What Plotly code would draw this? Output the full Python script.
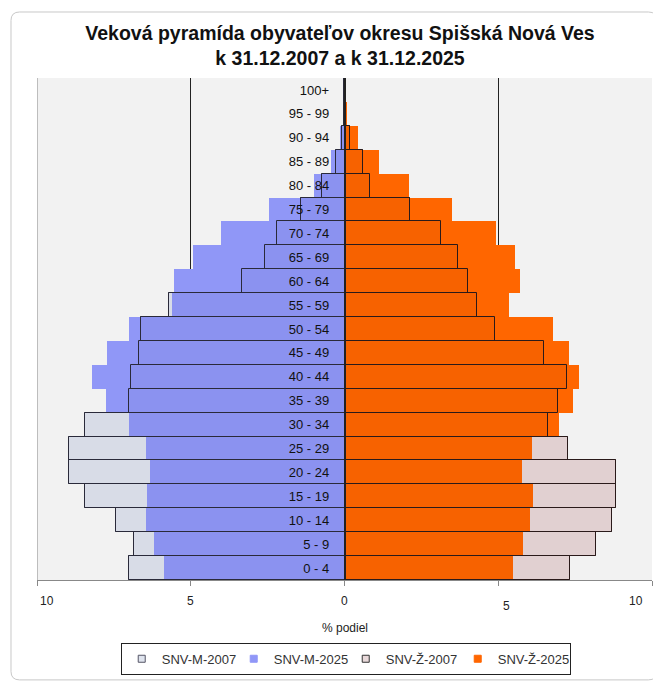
import plotly.graph_objects as go

age_groups = ["0 - 4", "5 - 9", "10 - 14", "15 - 19", "20 - 24", "25 - 29", "30 - 34",
              "35 - 39", "40 - 44", "45 - 49", "50 - 54", "55 - 59", "60 - 64", "65 - 69",
              "70 - 74", "75 - 79", "80 - 84", "85 - 89", "90 - 94", "95 - 99", "100+"]

male_2007 = [7.01, 6.84, 7.42, 8.43, 8.97, 8.97, 8.43, 7.02, 6.93, 6.68, 6.62, 5.72,
             3.34, 2.59, 2.19, 1.41, 0.73, 0.29, 0.09, 0.02, 0.01]
male_2025 = [5.87, 6.20, 6.46, 6.42, 6.32, 6.46, 7.02, 7.76, 8.20, 7.71, 7.02, 5.62,
             5.55, 4.93, 4.03, 2.44, 1.00, 0.45, 0.15, 0.04, 0.01]
female_2007 = [7.34, 8.18, 8.69, 8.83, 8.83, 7.28, 6.61, 6.93, 7.25, 6.50, 4.90, 4.30,
               4.02, 3.68, 3.14, 2.12, 0.83, 0.60, 0.18, 0.04, 0.01]
female_2025 = [5.48, 5.79, 6.03, 6.13, 5.76, 6.09, 6.98, 7.42, 7.63, 7.29, 6.77, 5.35,
               5.70, 5.56, 4.92, 3.49, 2.11, 1.12, 0.43, 0.09, 0.02]

series_names = ["SNV-M-2007", "SNV-M-2025", "SNV-Ž-2007", "SNV-Ž-2025"]

x_ticks = [-10, -5, 0, 5, 10]
x_tick_labels = ["10", "5", "0", "5", "10"]

neg = lambda arr: [-v for v in arr]

M07_FILL, M07_LINE = "#dfe4ee", "#4a4f60"
M25_FILL = "#9097f7"
Z07_FILL, Z07_LINE = "#e9d9da", "#3a3030"
Z25_FILL = "#ff6600"

fig = go.Figure()

fig.add_trace(go.Bar(y=age_groups, x=neg(male_2007), orientation="h", name=series_names[0],
                     showlegend=False,
                     marker=dict(color=M07_FILL, line=dict(color=M07_LINE, width=1))))
fig.add_trace(go.Bar(y=age_groups, x=neg(male_2025), orientation="h", name=series_names[1],
                     showlegend=False, marker=dict(color=M25_FILL, line=dict(width=0))))
fig.add_trace(go.Bar(y=age_groups, x=female_2007, orientation="h", name=series_names[2],
                     showlegend=False,
                     marker=dict(color=Z07_FILL, line=dict(color=Z07_LINE, width=1))))
fig.add_trace(go.Bar(y=age_groups, x=female_2025, orientation="h", name=series_names[3],
                     showlegend=False, marker=dict(color=Z25_FILL, line=dict(width=0))))
# 2007 outlines shown over the 2025 bars
fig.add_trace(go.Bar(y=age_groups, x=neg(male_2007), orientation="h", showlegend=False,
                     hoverinfo="skip",
                     marker=dict(color="rgba(0,0,40,0.03)", line=dict(color="#2a2a3a", width=1))))
fig.add_trace(go.Bar(y=age_groups, x=female_2007, orientation="h", showlegend=False,
                     hoverinfo="skip",
                     marker=dict(color="rgba(60,0,0,0.04)", line=dict(color="#2a1a1a", width=1))))

# legend entries with small square keys
legend_styles = [(M07_FILL, "#556"), (M25_FILL, M25_FILL), (Z07_FILL, "#333"), (Z25_FILL, Z25_FILL)]
for name, (fill, line) in zip(series_names, legend_styles):
    fig.add_trace(go.Scatter(x=[None], y=[None], mode="markers", name=name,
                             marker=dict(symbol="square", size=7, color=fill,
                                         line=dict(color=line, width=1))))

FONT = "Liberation Sans, Arial, sans-serif"

fig.update_layout(
    width=653, height=676,
    barmode="overlay", bargap=0,
    paper_bgcolor="white", plot_bgcolor="#f2f2f2",
    margin=dict(l=29, r=9, t=70, b=104, autoexpand=False),
    font=dict(family=FONT, size=12, color="#222"),
    title=dict(text="<b>Veková pyramída obyvateľov okresu Spišská Nová Ves<br>k 31.12.2007 a k 31.12.2025</b>",
               x=0.5084, xanchor="center", xref="container",
               y=0.953, yanchor="top", yref="container",
               font=dict(size=19.5, color="#111")),
    showlegend=True,
    legend=dict(orientation="h", x=0.502, xanchor="center", y=-0.157, yanchor="middle",
                bordercolor="#222", borderwidth=1, bgcolor="white",
                font=dict(size=13, color="#333"), traceorder="normal",
                itemwidth=30, tracegroupgap=0, entrywidth=67),
    xaxis=dict(range=[-10, 10], tickvals=x_ticks, ticktext=x_tick_labels,
               showticklabels=False, automargin=False,
               showgrid=True, gridcolor="#222", gridwidth=1, zeroline=False,
               showline=True, linecolor="#888", linewidth=1, ticks="outside",
               tickcolor="#888", ticklen=5, mirror=False, fixedrange=True),
    yaxis=dict(categoryorder="array", categoryarray=age_groups,
               anchor="free", position=0.5, side="left", automargin=False,
               showline=True, linecolor="#222", linewidth=1.5,
               ticks="", ticklabelstandoff=12,
               tickfont=dict(size=13, color="#111", family=FONT),
               showgrid=False, zeroline=False, fixedrange=True),
)

# x tick labels placed like the original chart
label_shift = {"-10": (10, 0), "-5": (0, 0), "0": (0, 0), "5": (8, -5), "10": (-16, 0)}
for v, t in zip(x_ticks, x_tick_labels):
    dx, dy = label_shift[str(v)]
    fig.add_annotation(x=v, y=0, xref="x", yref="paper", text=t, showarrow=False,
                       xanchor="center", yanchor="middle", xshift=dx, yshift=-21 + dy,
                       font=dict(size=12, color="#222", family=FONT))
fig.add_annotation(x=0, y=0, xref="x", yref="paper", text="% podiel", showarrow=False,
                   xanchor="center", yanchor="middle", yshift=-48,
                   font=dict(size=12, color="#222", family=FONT))

# left boundary line of plot area
fig.add_shape(type="line", xref="x", yref="paper", x0=-10, x1=-10, y0=0, y1=1,
              line=dict(color="#888", width=1), layer="above")

# outer chart border with rounded corners
x0, x1, y0, y1 = -0.0423, 1.0081, -0.199, 1.1315
rx, ry = 0.014, 0.017
path = (f"M {x0+rx},{y1} L {x1-rx},{y1} Q {x1},{y1} {x1},{y1-ry} "
        f"L {x1},{y0+ry} Q {x1},{y0} {x1-rx},{y0} L {x0+rx},{y0} Q {x0},{y0} {x0},{y0+ry} "
        f"L {x0},{y1-ry} Q {x0},{y1} {x0+rx},{y1} Z")
fig.add_shape(type="path", xref="paper", yref="paper", path=path,
              line=dict(color="#c8c8c8", width=1), layer="below")

fig.write_html("out.html")
